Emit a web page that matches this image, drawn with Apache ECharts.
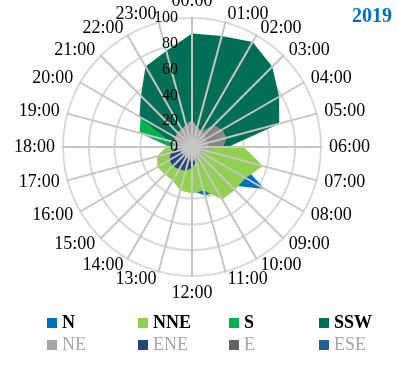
<!DOCTYPE html>
<html>
<head>
<meta charset="utf-8">
<script src="https://cdn.jsdelivr.net/npm/echarts@6/dist/echarts.min.js"></script>
<style>
  html, body { margin: 0; padding: 0; background: #ffffff; }
  #chart { width: 397px; height: 365px; }
</style>
</head>
<body>
<div id="chart"></div>
<script>
// Hour of day, clockwise from the top
const hours = ['00:00', '01:00', '02:00', '03:00', '04:00', '05:00', '06:00', '07:00',
               '08:00', '09:00', '10:00', '11:00', '12:00', '13:00', '14:00', '15:00',
               '16:00', '17:00', '18:00', '19:00', '20:00', '21:00', '22:00', '23:00'];

// Radial scale
const radialMin = 0;
const radialMax = 100;
const radialSteps = 5;

// Frequency per hour for each wind direction (00:00 .. 23:00)
const N   = [3, 3, 3, 3, 3, 5, 15, 36, 65, 42, 40, 39, 34, 20, 10, 5, 5, 5, 5, 5, 5, 3, 3, 3];
const NNE = [3, 3, 3, 3, 3, 5, 40, 57, 48, 47, 47, 35, 36, 35, 30, 30, 31, 28, 20, 10, 5, 3, 3, 3];
const S   = [5, 5, 5, 5, 5, 5, 5, 5, 5, 5, 5, 5, 5, 5, 5, 5, 6, 8, 17, 42, 46, 30, 15, 8];
const SSW = [88, 89, 94, 88, 78, 70, 28, 3, 2, 2, 2, 2, 2, 2, 2, 2, 3, 4, 6, 18, 47, 56, 72, 77];
const NE  = [21, 16, 14, 14, 12, 12, 14, 12, 10, 10, 10, 10, 11, 10, 9, 9, 9, 10, 15, 15, 15, 16, 16, 18];
const ENE = [6, 6, 6, 6, 6, 6, 6, 6, 6, 6, 8, 12, 16, 19, 20, 21, 20, 17, 12, 8, 6, 6, 6, 6];
const E   = [8, 12, 14, 24, 27, 28, 24, 8, 5, 5, 5, 5, 5, 5, 5, 5, 5, 5, 5, 5, 5, 5, 5, 5];
const ESE = [4, 4, 4, 4, 4, 4, 4, 4, 4, 4, 4, 8, 15, 8, 4, 4, 4, 4, 8, 20, 8, 4, 4, 4];

// Radar axes run counter-clockwise, so feed the hours in reverse after 00:00
const order = hours.map((_, i) => (24 - i) % 24);
const reorder = arr => order.map(k => arr[k]);

const serif = 'Liberation Serif';

// name, values, fill colour, legend swatch colour
const directions = [
  ['N',   N,   '#0070c0', '#0070c0'],
  ['NNE', NNE, '#92d050', '#92d050'],
  ['S',   S,   '#00b050', '#00b050'],
  ['SSW', SSW, '#006f56', '#006f56'],
  ['ENE', ENE, '#264478', '#264478'],
  ['E',   E,   '#878787', '#636363'],
  ['ESE', ESE, '#a4c6e8', '#255e91'],
  ['NE',  NE,  '#a5a5a5', '#a5a5a5']
];
const swatch = Object.fromEntries(directions.map(d => [d[0], d[3]]));

const indicatorBase = order.map(k => ({ name: hours[k], min: radialMin, max: radialMax }));
const indicatorTop = indicatorBase.map((ind, i) => i === 0 ? Object.assign({}, ind, { axisLabel: { show: true } }) : ind);

const center = [192, 147];
const radius = 129;

function legendColumn(left, first, second) {
  return {
    orient: 'vertical',
    left: left,
    top: 314,
    padding: 0,
    itemWidth: 10,
    itemHeight: 10,
    itemGap: 4,
    icon: 'rect',
    selectedMode: false,
    data: [
      { name: first, itemStyle: { color: swatch[first] },
        textStyle: { color: '#000000', fontWeight: 'bold', fontFamily: serif, fontSize: 18, lineHeight: 18 } },
      { name: second, itemStyle: { color: swatch[second] },
        textStyle: { color: '#a6a6a6', fontWeight: 'normal', fontFamily: serif, fontSize: 18, lineHeight: 18 } }
    ]
  };
}

const chart = echarts.init(document.getElementById('chart'), null, { renderer: 'canvas' });

chart.setOption({
  animation: false,
  backgroundColor: '#ffffff',
  title: {
    text: '2019',
    right: 5,
    top: 7,
    padding: 0,
    textStyle: { color: '#0070c0', fontFamily: serif, fontWeight: 'bold', fontSize: 20 }
  },
  legend: [
    legendColumn(47, 'N', 'NE'),
    legendColumn(138, 'NNE', 'ENE'),
    legendColumn(229, 'S', 'E'),
    legendColumn(319, 'SSW', 'ESE')
  ],
  radar: [
    {
      // rings and hour names, beneath the filled areas
      center: center,
      radius: radius,
      startAngle: 90,
      shape: 'circle',
      splitNumber: radialSteps,
      indicator: indicatorBase,
      nameGap: 8,
      axisName: { color: '#000000', fontFamily: serif, fontSize: 18 },
      splitLine: { lineStyle: { color: '#d9d9d9', width: 2 } },
      splitArea: { show: false },
      axisLine: { show: false },
      axisTick: { show: false },
      axisLabel: { show: false },
      z: 0
    },
    {
      // spokes and value labels, drawn over the filled areas
      center: center,
      radius: radius,
      startAngle: 90,
      shape: 'circle',
      splitNumber: radialSteps,
      indicator: indicatorTop,
      axisName: { show: false },
      splitLine: { show: false },
      splitArea: { show: false },
      axisLine: { lineStyle: { color: '#c6c6c6', width: 2 } },
      axisTick: { show: false },
      axisLabel: { show: false, color: '#000000', fontFamily: serif, fontSize: 16, margin: 14 },
      z: 5
    }
  ],
  series: directions.map(([name, values, fill, legendColor]) => ({
    type: 'radar',
    name: name,
    radarIndex: 0,
    z: 2,
    symbol: 'none',
    itemStyle: { color: legendColor },
    lineStyle: { width: 0 },
    areaStyle: { color: fill, opacity: 1 },
    emphasis: { disabled: true },
    data: [{ name: name, value: reorder(values) }]
  }))
});
</script>
</body>
</html>
